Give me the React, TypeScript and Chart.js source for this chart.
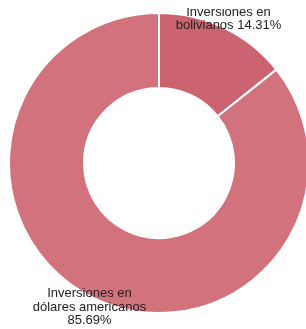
import React, { useEffect, useRef } from "react";
import { Chart, registerables } from "chart.js";

Chart.register(...registerables);

const categories = ["Inversiones en bolivianos", "Inversiones en dólares americanos"];
const values = [14.31, 85.69];
const colors = ["#cb6470", "#d2727c"];

const FONT = "13px 'Liberation Sans', Arial, sans-serif";
const MAX_W = 120;
const LINE_H = 13.5;
const LABEL_OFFSET = 10;

function wrap(ctx: CanvasRenderingContext2D, text: string): string[] {
  const words = text.split(" ");
  const lines: string[] = [];
  let cur = "";
  for (const w of words) {
    const t = cur ? cur + " " + w : w;
    if (cur && ctx.measureText(t).width > MAX_W) {
      lines.push(cur);
      cur = w;
    } else cur = t;
  }
  if (cur) lines.push(cur);
  return lines;
}

const labelPlugin = {
  id: "sliceLabels",
  afterDraw(chart: any) {
    const ctx = chart.ctx as CanvasRenderingContext2D;
    const meta = chart.getDatasetMeta(0);
    const total = values.reduce((a, b) => a + b, 0);
    ctx.save();
    ctx.font = FONT;
    ctx.fillStyle = "#222222";
    ctx.textAlign = "center";
    ctx.textBaseline = "middle";
    meta.data.forEach((arc: any, i: number) => {
      const p = arc.getProps(["x", "y", "startAngle", "endAngle", "outerRadius"], true);
      const mid = (p.startAngle + p.endAngle) / 2;
      const r = p.outerRadius + LABEL_OFFSET;
      const cx = p.x + Math.cos(mid) * r;
      const cy = p.y + Math.sin(mid) * r;
      const pct = ((values[i] / total) * 100).toFixed(2) + "%";
      const lines = wrap(ctx, categories[i] + " " + pct);
      const startY = cy - ((lines.length - 1) * LINE_H) / 2;
      lines.forEach((ln, k) => ctx.fillText(ln, cx, startY + k * LINE_H));
    });
    ctx.restore();
  },
};

export default function App() {
  const ref = useRef<HTMLCanvasElement>(null);
  useEffect(() => {
    document.documentElement.style.overflow = "hidden";
    document.body.style.margin = "0";
    const chart = new Chart(ref.current!, {
      type: "doughnut",
      data: {
        labels: categories,
        datasets: [
          {
            data: values,
            backgroundColor: colors,
            borderColor: "#ffffff",
            borderWidth: 2,
          },
        ],
      },
      options: {
        responsive: false,
        animation: false,
        cutout: "50%",
        layout: { padding: { top: 4, bottom: 15, left: 0, right: 0 } },
        plugins: {
          legend: { display: false },
          tooltip: { enabled: false },
        },
      },
      plugins: [labelPlugin],
    });
    return () => chart.destroy();
  }, []);
  return (
    <div style={{ width: 306, height: 329, overflow: "hidden", position: "relative" }}>
      <canvas
        ref={ref}
        width={302}
        height={321}
        style={{ display: "block", position: "absolute", left: 8, top: 8, width: 302, height: 321 }}
      />
    </div>
  );
}
